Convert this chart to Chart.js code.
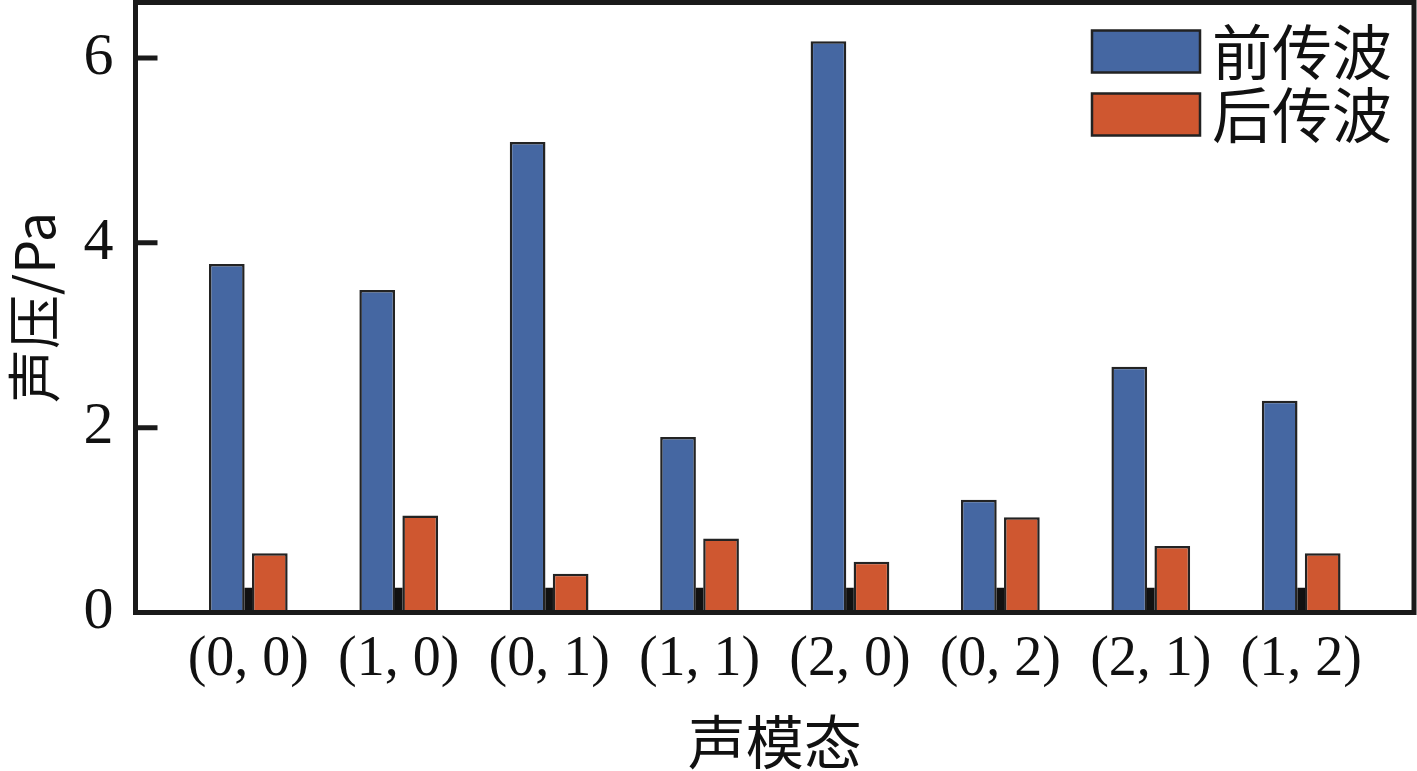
<!DOCTYPE html>
<html lang="zh">
<head>
    <meta charset="UTF-8">
    <title>声模态 声压</title>
    <script src="https://cdn.jsdelivr.net/npm/chart.js"></script>
    <style>
        body { margin: 0; background: #ffffff; }
        #box { width: 1417px; height: 771px; }
    </style>
</head>
<body>
    <div id="box"><canvas id="myChart" width="1417" height="771"></canvas></div>

    <script>
        // values
        const modes = [ '(0, 0)', '(1, 0)', '(0, 1)', '(1, 1)', '(2, 0)', '(0, 2)', '(2, 1)', '(1, 2)' ];
        const forwardWave = [ 3.77, 3.49, 5.09, 1.90, 6.18, 1.22, 2.66, 2.29 ];
        const backwardWave = [ 0.64, 1.05, 0.42, 0.80, 0.55, 1.03, 0.72, 0.64 ];
        const baseMarks = [ 0.265, 0.265, 0.265, 0.265, 0.265, 0.265, 0.265, 0.265 ];
        const yTicks = [ 0, 2, 4, 6 ];

        const serif = "'Liberation Serif', 'Noto Sans CJK SC', serif";
        const cjk = "'Noto Sans CJK SC', 'Liberation Serif', sans-serif";
        const frameColor = '#1a1a1a';

        const toPoints = arr => arr.map( ( v, i ) => ( { x: i + 1, y: v } ) );

        // legend in the upper right corner of the plot
        const cornerLegend = {
            id: 'cornerLegend',
            afterDraw( chart ) {
                const { ctx, chartArea } = chart;
                const items = chart.data.datasets.filter( d => d.label );
                ctx.save();
                items.forEach( ( d, i ) => {
                    const x = chartArea.right - 322;
                    const y = chartArea.top + 28 + i * 63;
                    ctx.fillStyle = d.backgroundColor;
                    ctx.fillRect( x, y, 108, 42 );
                    ctx.lineWidth = 2.5;
                    ctx.strokeStyle = '#222222';
                    ctx.strokeRect( x, y, 108, 42 );
                    ctx.fillStyle = '#111111';
                    ctx.font = '60px ' + cjk;
                    ctx.textBaseline = 'middle';
                    ctx.textAlign = 'left';
                    ctx.fillText( d.label, x + 120, y + 22 );
                } );
                ctx.restore();
            }
        };

        // box round the plot with inward ticks on the left
        const frame = {
            id: 'frame',
            afterDatasetsDraw( chart ) {
                const { ctx, chartArea, scales } = chart;
                ctx.save();
                ctx.strokeStyle = frameColor;
                ctx.lineWidth = 5;
                ctx.strokeRect( chartArea.left, chartArea.top, chartArea.right - chartArea.left, chartArea.bottom - chartArea.top );
                ctx.beginPath();
                scales.y.ticks.forEach( t => {
                    const py = scales.y.getPixelForValue( t.value );
                    ctx.moveTo( chartArea.left, py );
                    ctx.lineTo( chartArea.left + 22, py );
                } );
                ctx.stroke();
                ctx.restore();
            }
        };

        const ctx = document.getElementById( 'myChart' ).getContext( '2d' );
        const myChart = new Chart( ctx, {
            type: 'bar',
            data: {
                datasets: [
                    {
                        label: '前传波',
                        data: toPoints( forwardWave ),
                        backgroundColor: '#4567a2',
                        borderColor: '#232323',
                        borderWidth: 2.5,
                        borderSkipped: false,
                        categoryPercentage: 0.572,
                        barPercentage: 0.83
                    },
                    {
                        label: '后传波',
                        data: toPoints( backwardWave ),
                        backgroundColor: '#cf5730',
                        borderColor: '#232323',
                        borderWidth: 2.5,
                        borderSkipped: false,
                        categoryPercentage: 0.572,
                        barPercentage: 0.83
                    },
                    {
                        label: '',
                        data: toPoints( baseMarks ),
                        backgroundColor: '#111111',
                        grouped: false,
                        barThickness: 7,
                        order: 5
                    }
                ]
            },
            options: {
                responsive: false,
                animation: false,
                layout: { padding: { top: 2.5, right: 3, left: 0, bottom: 0 } },
                plugins: {
                    legend: { display: false },
                    tooltip: { enabled: false }
                },
                scales: {
                    x: {
                        type: 'linear',
                        min: 0.25,
                        max: 8.75,
                        offset: false,
                        grid: { display: false, drawTicks: false },
                        border: { display: false },
                        afterBuildTicks: scale => {
                            scale.ticks = modes.map( ( _, i ) => ( { value: i + 1 } ) );
                        },
                        afterFit: scale => {
                            scale.height = 158.5;
                            scale.paddingLeft = 0;
                            scale.paddingRight = 0;
                        },
                        ticks: {
                            autoSkip: false,
                            maxRotation: 0,
                            padding: 14,
                            color: '#111111',
                            font: { family: serif, size: 56 },
                            callback: value => modes[ Math.round( value ) - 1 ] || ''
                        },
                        title: {
                            display: true,
                            text: '声模态',
                            color: '#111111',
                            padding: 0,
                            font: { family: cjk, size: 58, lineHeight: 1 }
                        }
                    },
                    y: {
                        min: 0,
                        max: 6.6,
                        grid: { display: false, drawTicks: false },
                        border: { display: false },
                        afterBuildTicks: scale => {
                            scale.ticks = yTicks.map( v => ( { value: v } ) );
                        },
                        afterFit: scale => {
                            scale.width = 135.5;
                            scale.paddingTop = 0;
                            scale.paddingBottom = 0;
                        },
                        ticks: {
                            padding: 22,
                            color: '#111111',
                            font: { family: serif, size: 60 }
                        },
                        title: {
                            display: true,
                            text: '声压/Pa',
                            color: '#111111',
                            padding: 2,
                            font: { family: cjk, size: 54, lineHeight: 1.2 }
                        }
                    }
                }
            },
            plugins: [ frame, cornerLegend ]
        } );
    </script>
</body>
</html>
